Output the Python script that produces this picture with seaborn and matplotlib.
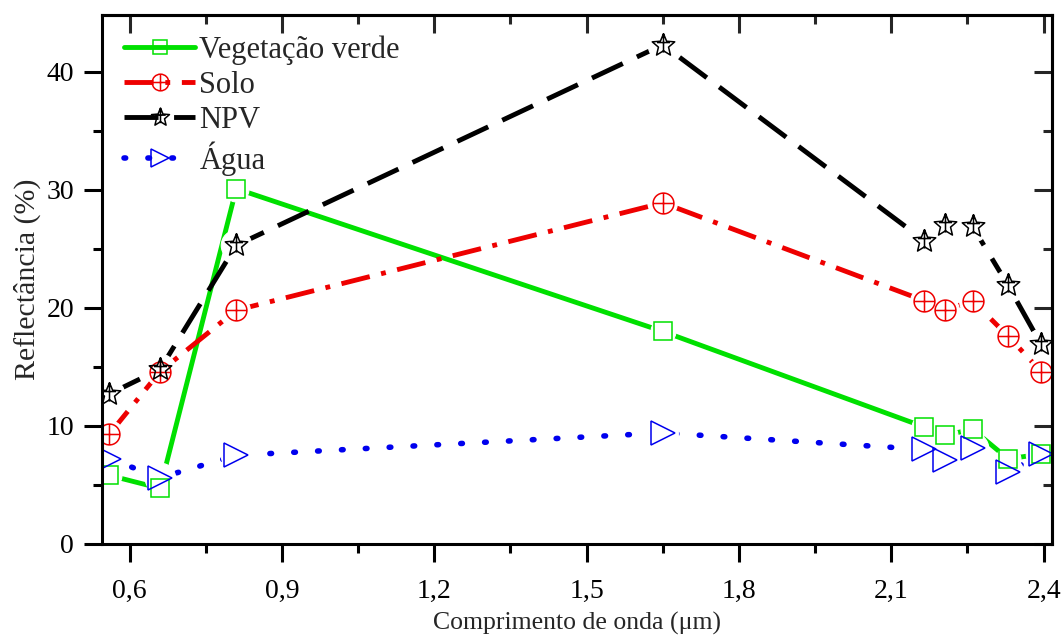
"""
Espectros de reflectancia - bandas ASTER
"""

import matplotlib
matplotlib.use("Agg")
import matplotlib.pyplot as plt
import seaborn as sns
from matplotlib.path import Path
from matplotlib.lines import Line2D
from matplotlib.ticker import MultipleLocator, FuncFormatter

# Dados
comprimento = [0.56, 0.66, 0.81, 1.65, 2.165, 2.205, 2.26, 2.33, 2.395]
vegetacao = [5.8, 4.7, 30.1, 18.0, 9.9, 9.2, 9.7, 7.2, 7.6]
solo = [9.3, 14.6, 19.8, 28.9, 20.6, 19.8, 20.6, 17.6, 14.6]
npv = [12.7, 14.8, 25.3, 42.3, 25.7, 27.0, 26.9, 21.9, 16.9]
agua = [7.2, 5.6, 7.5, 9.4, 8.0, 7.1, 8.1, 6.1, 7.6]

nomes = ["Vegetação verde", "Solo", "NPV", "Água"]
cores = ["#00e000", "#ee0000", "#000000", "#0000ee"]

sns.set_style("ticks")
plt.rcParams['font.family'] = ['Liberation Serif', 'DejaVu Serif']


def marcador_solo():
    """circulo com cruz"""
    circ = Path.unit_circle()
    h = Path([(-1, 0), (1, 0)], [Path.MOVETO, Path.LINETO])
    v = Path([(0, -1), (0, 1)], [Path.MOVETO, Path.LINETO])
    return Path.make_compound_path(circ, h, v)


def marcador_estrela():
    """estrela com linhas internas"""
    est = Path.unit_regular_star(5, 0.45)
    v = Path([(0, -0.6), (0, 1)], [Path.MOVETO, Path.LINETO])
    h = Path([(-0.55, 0.25), (0.55, 0.25)], [Path.MOVETO, Path.LINETO])
    return Path.make_compound_path(est, v, h)


series = [vegetacao, solo, npv, agua]
marcadores = ['s', marcador_solo(), marcador_estrela(), '>']
tamanhos = [13, 15, 17, 17]
larguras = [3.5, 3.5, 3.5, 4.0]
estilos = [
    dict(linestyle='-'),
    dict(dashes=(6.0, 2.4, 1.0, 2.4)),
    dict(dashes=(7.0, 3.2)),
    dict(dashes=(0.3, 4.0), dash_capstyle='round'),
]

fig, ax = plt.subplots(figsize=(10.64, 6.36), dpi=100)
fig.subplots_adjust(left=0.0956, right=0.9885, top=0.976, bottom=0.145)

# linhas
for y, cor, est, lw in zip(series, cores, estilos, larguras):
    sns.lineplot(x=comprimento, y=y, ax=ax, color=cor, lw=lw, sort=False,
                 errorbar=None, **est)

# falhas brancas em volta dos marcadores
for y, tam in zip(series, tamanhos):
    sns.lineplot(x=comprimento, y=y, ax=ax, linestyle='none', marker='o',
                 markersize=tam + 5, markerfacecolor='white',
                 markeredgecolor='white', sort=False, errorbar=None)

# marcadores
for y, cor, mk, tam in zip(series, cores, marcadores, tamanhos):
    sns.lineplot(x=comprimento, y=y, ax=ax, linestyle='none', marker=mk,
                 markersize=tam, markerfacecolor='none', markeredgecolor=cor,
                 markeredgewidth=1.1, sort=False, errorbar=None)

ax.set_xlim(0.545, 2.416)
ax.set_ylim(0, 44.8)
ax.xaxis.set_major_locator(MultipleLocator(0.3))
ax.xaxis.set_minor_locator(MultipleLocator(0.15))
ax.yaxis.set_major_locator(MultipleLocator(10))
ax.yaxis.set_minor_locator(MultipleLocator(5))
ax.xaxis.set_major_formatter(FuncFormatter(lambda v, p: f"{v:.1f}".replace('.', ',')))
ax.yaxis.set_major_formatter(FuncFormatter(lambda v, p: f"{v:.0f}"))

for s in ax.spines.values():
    s.set_visible(True)
    s.set_linewidth(2.2)
    s.set_color('black')

ax.xaxis.set_ticks_position('bottom')
ax.yaxis.set_ticks_position('left')
ax.tick_params(axis='both', which='both', direction='out', width=2.2,
               colors='black', labelsize=20)
ax.tick_params(axis='both', which='major', length=13)
ax.tick_params(axis='both', which='minor', length=6.5)
ax.tick_params(axis='x', which='major', pad=12)
ax.tick_params(axis='y', which='major', pad=7)

# ticks internos no topo e a direita
ax_top = ax.secondary_xaxis('top')
ax_top.xaxis.set_ticks_position('top')
ax_top.xaxis.set_major_locator(MultipleLocator(0.3))
ax_top.xaxis.set_minor_locator(MultipleLocator(0.15))
ax_top.tick_params(which='both', direction='in', width=2.2, labeltop=False)
ax_top.tick_params(which='major', length=13)
ax_top.tick_params(which='minor', length=6.5)
ax_top.spines['top'].set_linewidth(2.2)

ax_dir = ax.secondary_yaxis('right')
ax_dir.yaxis.set_ticks_position('right')
ax_dir.yaxis.set_major_locator(MultipleLocator(10))
ax_dir.yaxis.set_minor_locator(MultipleLocator(5))
ax_dir.tick_params(which='both', direction='in', width=2.2, labelright=False)
ax_dir.tick_params(which='major', length=13)
ax_dir.tick_params(which='minor', length=6.5)
ax_dir.spines['right'].set_linewidth(2.2)

ax.set_xlabel('Comprimento de onda (μm)', fontsize=18.5, labelpad=6)
ax.set_ylabel('Reflectância (%)', fontsize=21.5, labelpad=4)

# legenda
handles = []
for cor, est, mk, tam, lw in zip(cores, estilos, marcadores, tamanhos, larguras):
    handles.append(Line2D([], [], color=cor, lw=lw, marker=mk,
                          markersize=tam * 0.8, markerfacecolor='none',
                          markeredgecolor=cor, markeredgewidth=1.1, **est))
ax.legend(handles, nomes, loc='upper left', frameon=False, fontsize=22,
          handlelength=2.3, handletextpad=0.15, labelspacing=0.2,
          borderaxespad=0.0, bbox_to_anchor=(0.011, 0.985))

fig.savefig('out.png', dpi=100)
print("Saved: out.png")
